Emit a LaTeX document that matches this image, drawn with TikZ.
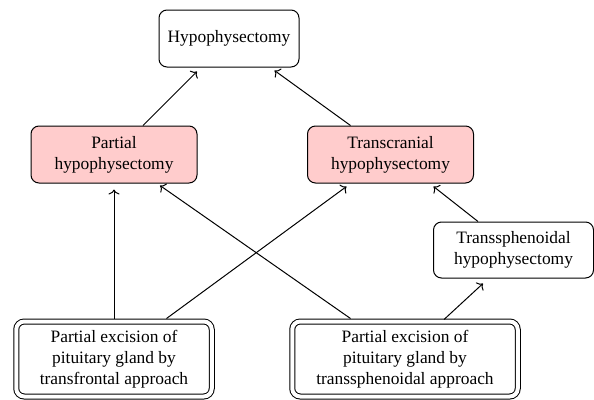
\documentclass[tikz,border=0pt]{standalone}
\usepackage{fontspec}
\setmainfont{Liberation Serif}
\usetikzlibrary{arrows.meta}
\definecolor{selpink}{RGB}{255,204,204}

\begin{document}
\begin{tikzpicture}[
    x=1pt, y=-1pt,
    line width=1pt,
    every node/.append style = {font=\fontsize{17.4}{20.8}\selectfont},
    proc/.style = {draw, rounded corners=8pt, align=center, inner sep=0pt},
    sel/.style = {proc, fill=selpink},
    src/.style = {proc, double, double distance=4pt},
    link/.style = {-{To[length=5pt,width=11pt]}}
  ]
  \useasboundingbox (0,0) rectangle (594,399);

  % procedures
  \node[proc, minimum width=140pt, minimum height=57pt] (hypo) at (229,38.5) {Hypophysectomy};
  \node[sel, minimum width=166pt, minimum height=57pt] (part) at (114,154.5) {Partial\\hypophysectomy};
  \node[sel, minimum width=166pt, minimum height=57pt] (tcran) at (390.5,154.5) {Transcranial\\hypophysectomy};
  \node[proc, minimum width=160pt, minimum height=56pt] (tsph) at (513.5,250) {Transsphenoidal\\hypophysectomy};

  % excisions
  \node[src, minimum width=195.5pt, minimum height=75pt] (bl) at (114,359)
    {Partial excision of\\pituitary gland by\\transfrontal approach};
  \node[src, minimum width=225.5pt, minimum height=75pt] (br) at (405,359)
    {Partial excision of\\pituitary gland by\\transsphenoidal approach};

  \draw[link] ([xshift=29pt]part.north) -- ([xshift=-32pt,yshift=-4pt]hypo.south);
  \draw[link] ([xshift=-40pt]tcran.north) -- ([xshift=45.5pt,yshift=-3pt]hypo.south);
  \draw[link] ([yshift=2.5pt]bl.north) -- ([yshift=-6pt]part.south);
  \draw[link] ([xshift=52.5pt,yshift=2.5pt]bl.north) -- ([xshift=-44pt,yshift=-3pt]tcran.south);
  \draw[link] ([xshift=-54.5pt,yshift=2.5pt]br.north) -- ([xshift=46pt,yshift=-2pt]part.south);
  \draw[link] ([xshift=39pt,yshift=1.5pt]br.north) -- ([xshift=-30.5pt,yshift=-5pt]tsph.south);
  \draw[link] ([xshift=-35.5pt]tsph.north) -- ([xshift=43pt,yshift=-3pt]tcran.south);
\end{tikzpicture}
\end{document}
